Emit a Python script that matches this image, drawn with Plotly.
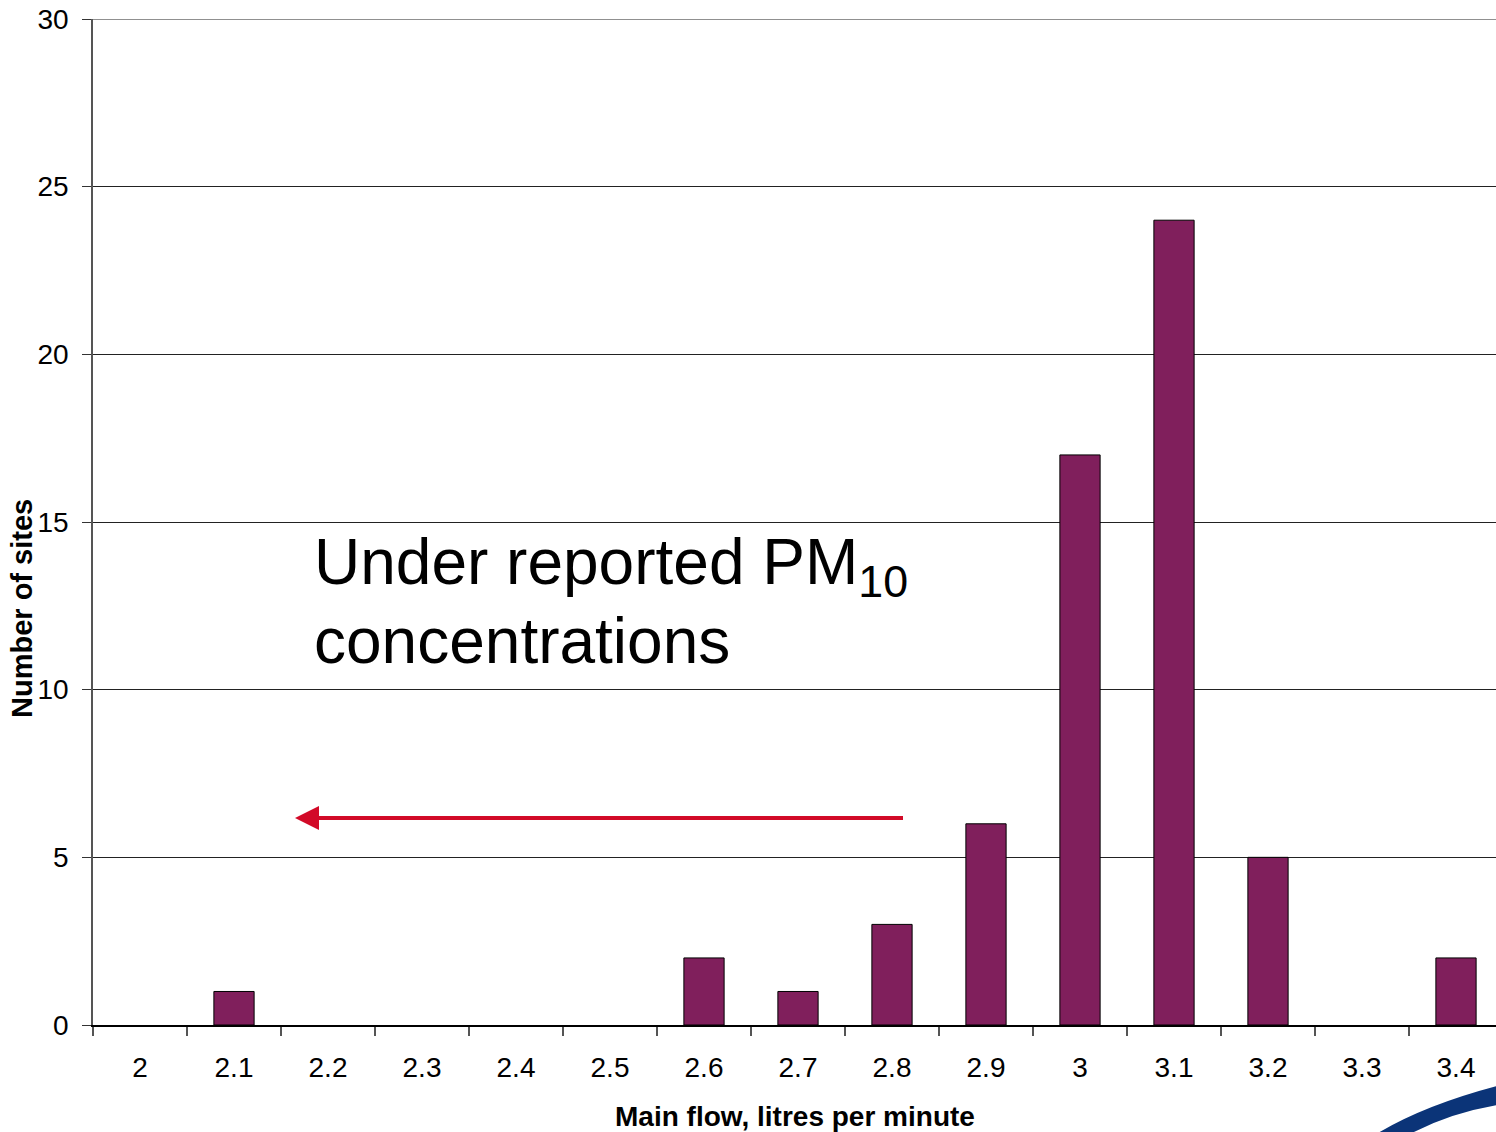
import plotly.graph_objects as go

# Data
flow_categories = ["2", "2.1", "2.2", "2.3", "2.4", "2.5", "2.6", "2.7",
                   "2.8", "2.9", "3", "3.1", "3.2", "3.3", "3.4"]
site_counts = [0, 1, 0, 0, 0, 0, 2, 1, 3, 6, 17, 24, 5, 0, 2]
y_ticks = [0, 5, 10, 15, 20, 25, 30]

W, H = 1496, 1132
L, T, R, B = 93, 19, 0, 107
PW, PH = W - L - R, H - T - B


def px(x):
    return (x - L) / PW


def py(y):
    return (H - B - y) / PH


fig = go.Figure()
fig.add_trace(go.Bar(
    x=flow_categories, y=site_counts,
    marker=dict(color="#801F5C",
                line=dict(color="#000000",
                          width=[1 if v else 0 for v in site_counts])),
))

FONT = "Liberation Sans, Arial, sans-serif"

fig.update_layout(
    width=W, height=H,
    margin=dict(l=L, r=R, t=T, b=B, pad=0),
    paper_bgcolor="white", plot_bgcolor="white",
    bargap=0.572,
    showlegend=False,
    font=dict(family=FONT, color="#000000"),
    xaxis=dict(
        type="category",
        range=[-0.5, -0.5 + PW / 94.0],
        tickson="boundaries",
        ticks="outside", ticklen=9, tickcolor="#555555", tickwidth=1.5,
        showgrid=False, showline=True, linecolor="#000000", linewidth=1.5,
        tickfont=dict(size=28, family=FONT, color="#000000"),
        ticklabelstandoff=17,
        zeroline=False,
    ),
    yaxis=dict(
        range=[0, 30], tickvals=y_ticks,
        ticks="outside", ticklen=9, tickcolor="#333333", tickwidth=1,
        showgrid=True, gridcolor="#222222", gridwidth=1,
        showline=True, linecolor="#555555", linewidth=1.5,
        tickfont=dict(size=28, family=FONT, color="#000000"),
        ticklabelstandoff=8,
        zeroline=False,
    ),
)

# Top gridline at 30
fig.add_shape(type="line", xref="paper", yref="y", x0=0, x1=1, y0=30, y1=30,
              line=dict(color="#222222", width=1), layer="below")

# Axis titles
fig.add_annotation(
    text="<b>Main flow, litres per minute</b>", xref="paper", yref="paper",
    x=px(795), y=py(1116), xanchor="center", yanchor="middle", showarrow=False,
    font=dict(size=28, family=FONT, color="#000000"),
)
fig.add_annotation(
    text="<b>Number of sites</b>", xref="paper", yref="paper",
    x=px(22), y=py(609), xanchor="center", yanchor="middle", showarrow=False,
    textangle=-90, font=dict(size=29, family=FONT, color="#000000"),
)

# Big annotation text
fig.add_annotation(
    text="Under reported PM<sub>10</sub>", xref="paper", yref="paper",
    x=px(312), y=py(566), xanchor="left", yanchor="middle", showarrow=False,
    font=dict(size=64, family=FONT, color="#000000"),
)
fig.add_annotation(
    text="concentrations", xref="paper", yref="paper",
    x=px(312), y=py(641), xanchor="left", yanchor="middle", showarrow=False,
    font=dict(size=64, family=FONT, color="#000000"),
)

# Red arrow
RED = "#D20A28"
fig.add_shape(type="line", xref="paper", yref="paper",
              x0=px(903), y0=py(818), x1=px(315), y1=py(818),
              line=dict(color=RED, width=4))
fig.add_shape(type="path", xref="paper", yref="paper",
              path=f"M {px(295)} {py(818)} L {px(319)} {py(806)} L {px(319)} {py(830)} Z",
              fillcolor=RED, line=dict(color=RED, width=0))

# Blue swoosh decoration (bottom right)
BLUE = "#0B3478"
pts_path = (
    f"M {px(1378)} {py(1133)} "
    f"Q {px(1425)} {py(1105)} {px(1497)} {py(1086)} "
    f"L {px(1497)} {py(1105)} "
    f"Q {px(1450)} {py(1113)} {px(1412)} {py(1133)} Z"
)
fig.add_shape(type="path", xref="paper", yref="paper", path=pts_path,
              fillcolor=BLUE, line=dict(color=BLUE, width=0), layer="above")

fig.write_html("out.html")
